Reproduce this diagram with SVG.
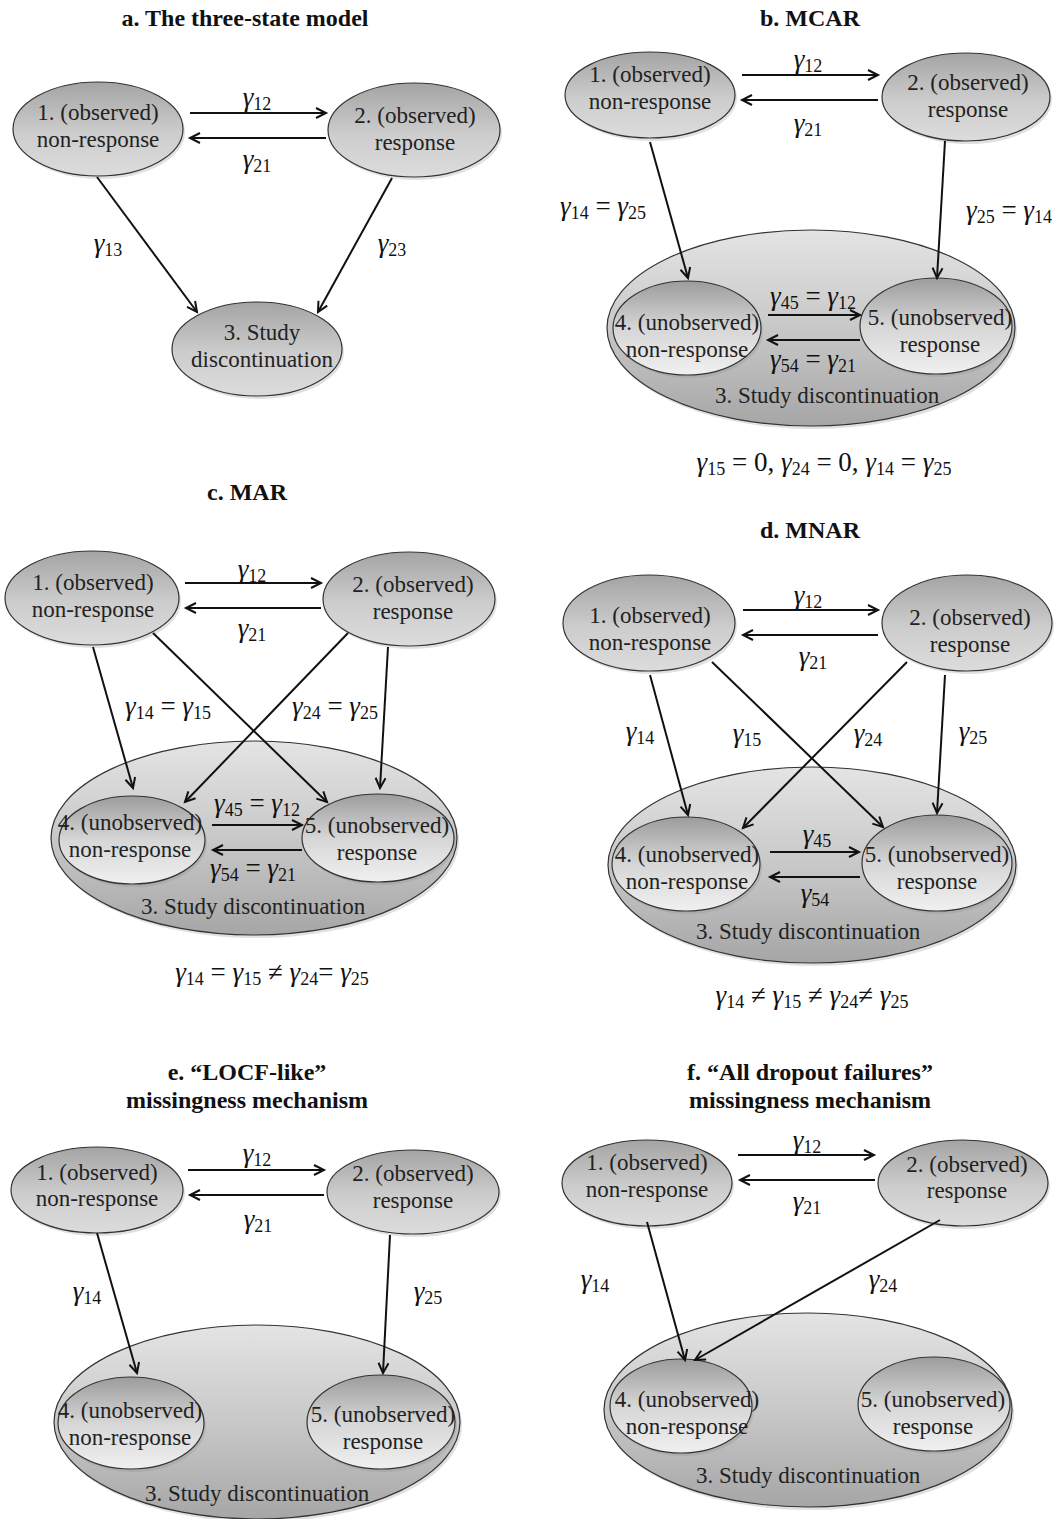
<svg xmlns="http://www.w3.org/2000/svg" width="1057" height="1519" viewBox="0 0 1057 1519">
<defs>
<linearGradient id="gObs" x1="0" y1="0" x2="0" y2="1">
<stop offset="0" stop-color="#a4a4a4"/><stop offset="0.55" stop-color="#cdcdcd"/><stop offset="1" stop-color="#dcdcdc"/>
</linearGradient>
<linearGradient id="gBig" x1="0" y1="0" x2="0" y2="1">
<stop offset="0" stop-color="#e4e4e4"/><stop offset="0.5" stop-color="#c8c8c8"/><stop offset="1" stop-color="#a6a6a6"/>
</linearGradient>
<linearGradient id="gUn" x1="0" y1="0" x2="0" y2="1">
<stop offset="0" stop-color="#9c9c9c"/><stop offset="0.5" stop-color="#d6d6d6"/><stop offset="1" stop-color="#f0f0f0"/>
</linearGradient>
<marker id="ah" markerUnits="userSpaceOnUse" markerWidth="14" markerHeight="14" refX="11" refY="6" orient="auto">
<path d="M1,1 L11,6 L1,11" fill="none" stroke="#111" stroke-width="2"/>
</marker>
<style>
.t{font-family:"Liberation Serif","Times New Roman",serif;font-weight:bold;font-size:24px;fill:#111;text-anchor:middle}
.n{font-family:"Liberation Serif","Times New Roman",serif;font-size:23px;fill:#222;text-anchor:middle}
.m{font-family:"Liberation Serif","Times New Roman",serif;font-size:27px;fill:#111;text-anchor:middle}
.m .i{font-style:italic}
.m .s{font-size:18px}
.obs{fill:url(#gObs);stroke:#333;stroke-width:1.2}
.big{fill:url(#gBig);stroke:#333;stroke-width:1.2}
.un{fill:url(#gUn);stroke:#333;stroke-width:1.2}
.sh{fill:#888;opacity:0.25}
.c line{stroke:#111;stroke-width:2;marker-end:url(#ah)}
</style>
</defs>
<rect width="1057" height="1519" fill="#fff"/>

<!-- Panel a -->
<g id="panel-a">
<text class="t" x="245" y="26">a. The three-state model</text>
<g id="a-n1"><ellipse class="sh" cx="100" cy="132" rx="85" ry="47"/><ellipse class="obs" cx="98" cy="129" rx="85" ry="47"/>
<text class="n" x="98" y="120">1. (observed)</text><text class="n" x="98" y="147">non-response</text></g>
<g id="a-n2"><ellipse class="sh" cx="416" cy="133" rx="86" ry="47"/><ellipse class="obs" cx="414" cy="130" rx="86" ry="47"/>
<text class="n" x="415" y="123">2. (observed)</text><text class="n" x="415" y="150">response</text></g>
<g id="a-n3"><ellipse class="sh" cx="259" cy="352" rx="85" ry="47"/><ellipse class="obs" cx="257" cy="349" rx="85" ry="47"/>
<text class="n" x="262" y="340">3. Study</text><text class="n" x="262" y="367">discontinuation</text></g>
<g id="a-connectors" class="c">
<line x1="190" y1="113" x2="326" y2="113"/>
<line x1="326" y1="138" x2="190" y2="138"/>
<line x1="97" y1="177" x2="197" y2="312"/>
<line x1="392" y1="178" x2="318" y2="312"/>
</g>
<text class="m" x="257" y="106"><tspan class="i">γ</tspan><tspan class="s" dy="4">12</tspan></text>
<text class="m" x="257" y="168"><tspan class="i">γ</tspan><tspan class="s" dy="4">21</tspan></text>
<text class="m" x="108" y="252"><tspan class="i">γ</tspan><tspan class="s" dy="4">13</tspan></text>
<text class="m" x="392" y="252"><tspan class="i">γ</tspan><tspan class="s" dy="4">23</tspan></text>
</g>

<!-- Panel b -->
<g id="panel-b">
<text class="t" x="810" y="26">b. MCAR</text>
<g id="b-n1"><ellipse class="sh" cx="652" cy="98" rx="85" ry="43"/><ellipse class="obs" cx="650" cy="95" rx="85" ry="43"/>
<text class="n" x="650" y="82">1. (observed)</text><text class="n" x="650" y="109">non-response</text></g>
<g id="b-n2"><ellipse class="sh" cx="968" cy="100" rx="84" ry="44"/><ellipse class="obs" cx="966" cy="97" rx="84" ry="44"/>
<text class="n" x="968" y="90">2. (observed)</text><text class="n" x="968" y="117">response</text></g>
<g id="b-n3"><ellipse class="sh" cx="813" cy="331" rx="204" ry="98"/><ellipse class="big" cx="811" cy="328" rx="204" ry="98"/>
<text class="n" x="827" y="403">3. Study discontinuation</text></g>
<g id="b-n4"><ellipse class="sh" cx="689" cy="331" rx="74" ry="47"/><ellipse class="un" cx="687" cy="328" rx="74" ry="47"/>
<text class="n" x="687" y="330">4. (unobserved)</text><text class="n" x="687" y="357">non-response</text></g>
<g id="b-n5"><ellipse class="sh" cx="938" cy="329" rx="76" ry="48"/><ellipse class="un" cx="936" cy="326" rx="76" ry="48"/>
<text class="n" x="940" y="325">5. (unobserved)</text><text class="n" x="940" y="352">response</text></g>
<g id="b-connectors" class="c">
<line x1="742" y1="75" x2="878" y2="75"/>
<line x1="878" y1="100" x2="742" y2="100"/>
<line x1="768" y1="315" x2="860" y2="315"/>
<line x1="860" y1="340" x2="768" y2="340"/>
<line x1="650" y1="142" x2="688" y2="278"/>
<line x1="945" y1="141" x2="937" y2="278"/>
</g>
<text class="m" x="808" y="68"><tspan class="i">γ</tspan><tspan class="s" dy="4">12</tspan></text>
<text class="m" x="808" y="132"><tspan class="i">γ</tspan><tspan class="s" dy="4">21</tspan></text>
<text class="m" x="813" y="305"><tspan class="i">γ</tspan><tspan class="s" dy="4">45</tspan><tspan dy="-4"> = </tspan><tspan class="i">γ</tspan><tspan class="s" dy="4">12</tspan></text>
<text class="m" x="813" y="368"><tspan class="i">γ</tspan><tspan class="s" dy="4">54</tspan><tspan dy="-4"> = </tspan><tspan class="i">γ</tspan><tspan class="s" dy="4">21</tspan></text>
<text class="m" x="603" y="215"><tspan class="i">γ</tspan><tspan class="s" dy="4">14</tspan><tspan dy="-4"> = </tspan><tspan class="i">γ</tspan><tspan class="s" dy="4">25</tspan></text>
<text class="m" x="1009" y="219"><tspan class="i">γ</tspan><tspan class="s" dy="4">25</tspan><tspan dy="-4"> = </tspan><tspan class="i">γ</tspan><tspan class="s" dy="4">14</tspan></text>
<text class="m" x="824" y="471"><tspan class="i">γ</tspan><tspan class="s" dy="4">15</tspan><tspan dy="-4"> = 0, </tspan><tspan class="i">γ</tspan><tspan class="s" dy="4">24</tspan><tspan dy="-4"> = 0,  </tspan><tspan class="i">γ</tspan><tspan class="s" dy="4">14</tspan><tspan dy="-4"> = </tspan><tspan class="i">γ</tspan><tspan class="s" dy="4">25</tspan></text>
</g>

<!-- Panel c -->
<g id="panel-c">
<text class="t" x="247" y="500">c. MAR</text>
<g id="c-n1"><ellipse class="sh" cx="94" cy="601" rx="87" ry="47"/><ellipse class="obs" cx="92" cy="598" rx="87" ry="47"/>
<text class="n" x="93" y="590">1. (observed)</text><text class="n" x="93" y="617">non-response</text></g>
<g id="c-n2"><ellipse class="sh" cx="411" cy="602" rx="86" ry="47"/><ellipse class="obs" cx="409" cy="599" rx="86" ry="47"/>
<text class="n" x="413" y="592">2. (observed)</text><text class="n" x="413" y="619">response</text></g>
<g id="c-n3"><ellipse class="sh" cx="256" cy="841" rx="203" ry="97"/><ellipse class="big" cx="254" cy="838" rx="203" ry="97"/>
<text class="n" x="253" y="914">3. Study discontinuation</text></g>
<g id="c-n4"><ellipse class="sh" cx="134" cy="843" rx="73" ry="44"/><ellipse class="un" cx="132" cy="840" rx="73" ry="44"/>
<text class="n" x="130" y="830">4. (unobserved)</text><text class="n" x="130" y="857">non-response</text></g>
<g id="c-n5"><ellipse class="sh" cx="380" cy="841" rx="76" ry="44"/><ellipse class="un" cx="378" cy="838" rx="76" ry="44"/>
<text class="n" x="377" y="833">5. (unobserved)</text><text class="n" x="377" y="860">response</text></g>
<g id="c-connectors" class="c">
<line x1="185" y1="583" x2="321" y2="583"/>
<line x1="321" y1="608" x2="186" y2="608"/>
<line x1="212" y1="825" x2="302" y2="825"/>
<line x1="302" y1="850" x2="213" y2="850"/>
<line x1="93" y1="647" x2="133" y2="788"/>
<line x1="153" y1="633" x2="327" y2="802"/>
<line x1="348" y1="633" x2="185" y2="802"/>
<line x1="388" y1="647" x2="380" y2="788"/>
</g>
<text class="m" x="252" y="578"><tspan class="i">γ</tspan><tspan class="s" dy="4">12</tspan></text>
<text class="m" x="252" y="637"><tspan class="i">γ</tspan><tspan class="s" dy="4">21</tspan></text>
<text class="m" x="257" y="812"><tspan class="i">γ</tspan><tspan class="s" dy="4">45</tspan><tspan dy="-4"> = </tspan><tspan class="i">γ</tspan><tspan class="s" dy="4">12</tspan></text>
<text class="m" x="253" y="877"><tspan class="i">γ</tspan><tspan class="s" dy="4">54</tspan><tspan dy="-4"> = </tspan><tspan class="i">γ</tspan><tspan class="s" dy="4">21</tspan></text>
<text class="m" x="168" y="715"><tspan class="i">γ</tspan><tspan class="s" dy="4">14</tspan><tspan dy="-4"> = </tspan><tspan class="i">γ</tspan><tspan class="s" dy="4">15</tspan></text>
<text class="m" x="335" y="715"><tspan class="i">γ</tspan><tspan class="s" dy="4">24</tspan><tspan dy="-4"> = </tspan><tspan class="i">γ</tspan><tspan class="s" dy="4">25</tspan></text>
<text class="m" x="272" y="981"><tspan class="i">γ</tspan><tspan class="s" dy="4">14</tspan><tspan dy="-4"> = </tspan><tspan class="i">γ</tspan><tspan class="s" dy="4">15</tspan><tspan dy="-4"> ≠ </tspan><tspan class="i">γ</tspan><tspan class="s" dy="4">24</tspan><tspan dy="-4">= </tspan><tspan class="i">γ</tspan><tspan class="s" dy="4">25</tspan></text>
</g>

<!-- Panel d -->
<g id="panel-d">
<text class="t" x="810" y="538">d. MNAR</text>
<g id="d-n1"><ellipse class="sh" cx="651" cy="626" rx="86" ry="48"/><ellipse class="obs" cx="649" cy="623" rx="86" ry="48"/>
<text class="n" x="650" y="623">1. (observed)</text><text class="n" x="650" y="650">non-response</text></g>
<g id="d-n2"><ellipse class="sh" cx="969" cy="626" rx="85" ry="48"/><ellipse class="obs" cx="967" cy="623" rx="85" ry="48"/>
<text class="n" x="970" y="625">2. (observed)</text><text class="n" x="970" y="652">response</text></g>
<g id="d-n3"><ellipse class="sh" cx="814" cy="868" rx="204" ry="98"/><ellipse class="big" cx="812" cy="865" rx="204" ry="98"/>
<text class="n" x="808" y="939">3. Study discontinuation</text></g>
<g id="d-n4"><ellipse class="sh" cx="688" cy="867" rx="74" ry="47"/><ellipse class="un" cx="686" cy="864" rx="74" ry="47"/>
<text class="n" x="687" y="862">4. (unobserved)</text><text class="n" x="687" y="889">non-response</text></g>
<g id="d-n5"><ellipse class="sh" cx="939" cy="866" rx="75" ry="48"/><ellipse class="un" cx="937" cy="863" rx="75" ry="48"/>
<text class="n" x="937" y="862">5. (unobserved)</text><text class="n" x="937" y="889">response</text></g>
<g id="d-connectors" class="c">
<line x1="743" y1="610" x2="878" y2="610"/>
<line x1="878" y1="635" x2="743" y2="635"/>
<line x1="770" y1="852" x2="859" y2="852"/>
<line x1="860" y1="877" x2="770" y2="877"/>
<line x1="650" y1="675" x2="688" y2="815"/>
<line x1="712" y1="662" x2="883" y2="827"/>
<line x1="907" y1="662" x2="743" y2="828"/>
<line x1="945" y1="675" x2="937" y2="813"/>
</g>
<text class="m" x="808" y="604"><tspan class="i">γ</tspan><tspan class="s" dy="4">12</tspan></text>
<text class="m" x="813" y="665"><tspan class="i">γ</tspan><tspan class="s" dy="4">21</tspan></text>
<text class="m" x="817" y="843"><tspan class="i">γ</tspan><tspan class="s" dy="4">45</tspan></text>
<text class="m" x="815" y="902"><tspan class="i">γ</tspan><tspan class="s" dy="4">54</tspan></text>
<text class="m" x="640" y="740"><tspan class="i">γ</tspan><tspan class="s" dy="4">14</tspan></text>
<text class="m" x="747" y="742"><tspan class="i">γ</tspan><tspan class="s" dy="4">15</tspan></text>
<text class="m" x="868" y="742"><tspan class="i">γ</tspan><tspan class="s" dy="4">24</tspan></text>
<text class="m" x="973" y="740"><tspan class="i">γ</tspan><tspan class="s" dy="4">25</tspan></text>
<text class="m" x="812" y="1004"><tspan class="i">γ</tspan><tspan class="s" dy="4">14</tspan><tspan dy="-4"> ≠ </tspan><tspan class="i">γ</tspan><tspan class="s" dy="4">15</tspan><tspan dy="-4"> ≠ </tspan><tspan class="i">γ</tspan><tspan class="s" dy="4">24</tspan><tspan dy="-4">≠ </tspan><tspan class="i">γ</tspan><tspan class="s" dy="4">25</tspan></text>
</g>

<!-- Panel e -->
<g id="panel-e">
<text class="t" x="247" y="1080">e. “LOCF-like”</text>
<text class="t" x="247" y="1108">missingness mechanism</text>
<g id="e-n1"><ellipse class="sh" cx="99" cy="1193" rx="86" ry="43"/><ellipse class="obs" cx="97" cy="1190" rx="86" ry="43"/>
<text class="n" x="97" y="1180">1. (observed)</text><text class="n" x="97" y="1206">non-response</text></g>
<g id="e-n2"><ellipse class="sh" cx="415" cy="1195" rx="86" ry="42"/><ellipse class="obs" cx="413" cy="1192" rx="86" ry="42"/>
<text class="n" x="413" y="1181">2. (observed)</text><text class="n" x="413" y="1208">response</text></g>
<g id="e-n3"><ellipse class="sh" cx="259" cy="1425" rx="203" ry="97"/><ellipse class="big" cx="257" cy="1422" rx="203" ry="97"/>
<text class="n" x="257" y="1501">3. Study discontinuation</text></g>
<g id="e-n4"><ellipse class="sh" cx="133" cy="1426" rx="73" ry="46"/><ellipse class="un" cx="131" cy="1423" rx="73" ry="46"/>
<text class="n" x="130" y="1418">4. (unobserved)</text><text class="n" x="130" y="1445">non-response</text></g>
<g id="e-n5"><ellipse class="sh" cx="383" cy="1425" rx="74" ry="47"/><ellipse class="un" cx="381" cy="1422" rx="74" ry="47"/>
<text class="n" x="383" y="1422">5. (unobserved)</text><text class="n" x="383" y="1449">response</text></g>
<g id="e-connectors" class="c">
<line x1="188" y1="1170" x2="324" y2="1170"/>
<line x1="324" y1="1195" x2="190" y2="1195"/>
<line x1="97" y1="1233" x2="137" y2="1373"/>
<line x1="390" y1="1235" x2="383" y2="1373"/>
</g>
<text class="m" x="257" y="1162"><tspan class="i">γ</tspan><tspan class="s" dy="4">12</tspan></text>
<text class="m" x="258" y="1228"><tspan class="i">γ</tspan><tspan class="s" dy="4">21</tspan></text>
<text class="m" x="87" y="1300"><tspan class="i">γ</tspan><tspan class="s" dy="4">14</tspan></text>
<text class="m" x="428" y="1300"><tspan class="i">γ</tspan><tspan class="s" dy="4">25</tspan></text>
</g>

<!-- Panel f -->
<g id="panel-f">
<text class="t" x="810" y="1080">f. “All dropout failures”</text>
<text class="t" x="810" y="1108">missingness mechanism</text>
<g id="f-n1"><ellipse class="sh" cx="649" cy="1186" rx="85" ry="43"/><ellipse class="obs" cx="647" cy="1183" rx="85" ry="43"/>
<text class="n" x="647" y="1170">1. (observed)</text><text class="n" x="647" y="1197">non-response</text></g>
<g id="f-n2"><ellipse class="sh" cx="965" cy="1186" rx="85" ry="43"/><ellipse class="obs" cx="963" cy="1183" rx="85" ry="43"/>
<text class="n" x="967" y="1172">2. (observed)</text><text class="n" x="967" y="1198">response</text></g>
<g id="f-n3"><ellipse class="sh" cx="810" cy="1413" rx="204" ry="97"/><ellipse class="big" cx="808" cy="1410" rx="204" ry="97"/>
<text class="n" x="808" y="1483">3. Study discontinuation</text></g>
<g id="f-n4"><ellipse class="sh" cx="683" cy="1409" rx="71" ry="47"/><ellipse class="un" cx="681" cy="1406" rx="71" ry="47"/>
<text class="n" x="687" y="1407">4. (unobserved)</text><text class="n" x="687" y="1434">non-response</text></g>
<g id="f-n5"><ellipse class="sh" cx="936" cy="1407" rx="76" ry="47"/><ellipse class="un" cx="934" cy="1404" rx="76" ry="47"/>
<text class="n" x="933" y="1407">5. (unobserved)</text><text class="n" x="933" y="1434">response</text></g>
<g id="f-connectors" class="c">
<line x1="738" y1="1155" x2="874" y2="1155"/>
<line x1="875" y1="1180" x2="740" y2="1180"/>
<line x1="647" y1="1222" x2="685" y2="1360"/>
<line x1="940" y1="1220" x2="695" y2="1360"/>
</g>
<text class="m" x="807" y="1149"><tspan class="i">γ</tspan><tspan class="s" dy="4">12</tspan></text>
<text class="m" x="807" y="1210"><tspan class="i">γ</tspan><tspan class="s" dy="4">21</tspan></text>
<text class="m" x="595" y="1288"><tspan class="i">γ</tspan><tspan class="s" dy="4">14</tspan></text>
<text class="m" x="883" y="1288"><tspan class="i">γ</tspan><tspan class="s" dy="4">24</tspan></text>
</g>
</svg>
